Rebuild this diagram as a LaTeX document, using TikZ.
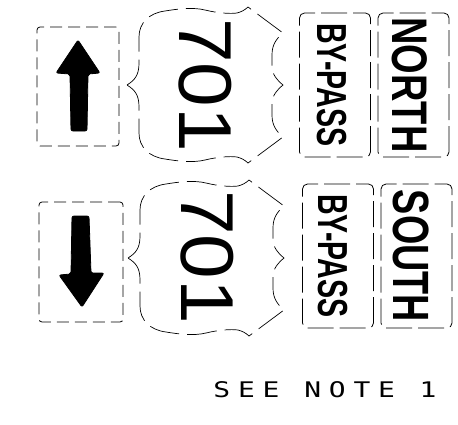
\documentclass[tikz,border=0pt]{standalone}
\usepackage{fontspec}
\setmainfont{Liberation Sans}
\newfontfamily\notefont[LetterSpace=28]{DejaVu Sans Mono}

\tikzset{
  arrowbox/.style={draw, dash pattern=on 12pt off 6pt, line width=0.8pt, rounded corners=3pt, inner sep=0pt},
  panel/.style={draw, dash pattern=on 26pt off 6pt, line width=0.8pt, rounded corners=5pt, rotate=-90,
    inner sep=0pt, minimum width=144pt, minimum height=71pt, font=\bfseries},
  routenum/.style={rotate=-90, inner sep=0pt, font=\fontsize{75}{75}\selectfont},
  shieldline/.style={dash pattern=on 30pt off 8pt, line width=0.7pt},
  bigarrow/.style={fill=black, draw=black, line width=0.8pt, rounded corners=2pt},
}

\begin{document}
\begin{tikzpicture}[x=1pt,y=-1pt]
\useasboundingbox (0,0) rectangle (458,424);

% Arrow boxes
\node[arrowbox, minimum width=82pt, minimum height=119pt] (upbox) at (78,86.5) {};
\node[arrowbox, minimum width=84pt, minimum height=120pt] (downbox) at (81,262) {};
\fill[bigarrow] (78,40) -- (100,73) -- (88,74) -- (87,131) -- (71,131) -- (70,74) -- (56,73) -- cycle;
\fill[bigarrow] (72,216) -- (89,216) -- (91,273) -- (104,273) -- (82,307) -- (59,275) -- (71,274) -- cycle;

% Route shields
\foreach \cx/\cy in {205/85, 206/258}
  \draw[shieldline, shift={(\cx,\cy)}]
    (-78,0) .. controls (-70,-5) and (-66,-10) .. (-66,-22)
    -- (-66,-48) .. controls (-66,-62) and (-56,-72) .. (-40,-74)
    .. controls (-28,-76) and (-12,-78) .. (0,-75)
    .. controls (12,-72) and (25,-71) .. (32,-72)
    .. controls (36,-73) and (40,-75) .. (43,-78)
    -- (78,-52)
    .. controls (71,-46) and (67,-40) .. (67,-30)
    -- (67,-20) .. controls (67,-10) and (72,-5) .. (78,0)
    .. controls (72,5) and (67,10) .. (67,20)
    -- (67,30) .. controls (67,40) and (71,46) .. (78,52)
    -- (43,78)
    .. controls (40,75) and (36,73) .. (32,72)
    .. controls (25,71) and (12,72) .. (0,75)
    .. controls (-12,78) and (-28,76) .. (-40,74)
    .. controls (-56,72) and (-66,62) .. (-66,48)
    -- (-66,22) .. controls (-66,10) and (-70,5) .. (-78,0) -- cycle;
\node[routenum] (num1) at (205,85) {\scalebox{1.07}[1]{701}};
\node[routenum] (num2) at (207,257) {\scalebox{1.07}[1]{701}};

% Direction panels
\node[panel, text height=36pt] (bypass1) at (335,85) {\scalebox{0.68}[1]{\fontsize{42}{42}\selectfont BY-PASS}};
\node[panel, text height=43pt] (north) at (413.5,85) {\scalebox{0.76}[1]{\fontsize{50}{50}\selectfont NORTH}};
\node[panel, text height=39pt] (bypass2) at (338,256) {\scalebox{0.68}[1]{\fontsize{42}{42}\selectfont BY-PASS}};
\node[panel, text height=46pt] (south) at (416.5,256) {\scalebox{0.74}[1]{\fontsize{51}{51}\selectfont SOUTH}};

% Note
\node[inner sep=0pt] (note) at (325,389.5) {\scalebox{1.3}[1]{\notefont\fontsize{21.5}{21.5}\selectfont SEE NOTE 1}};
\end{tikzpicture}
\end{document}
